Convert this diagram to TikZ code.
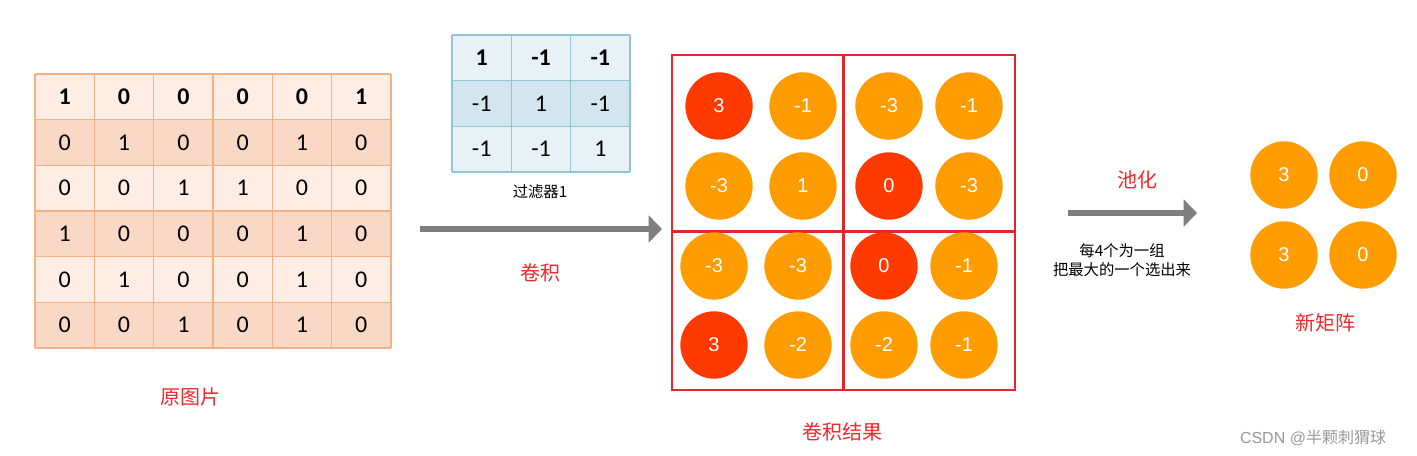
\documentclass[tikz,border=0pt]{standalone}
\usepackage{fontspec}
\setmainfont{Liberation Sans}
\newfontfamily\cjk{Noto Sans CJK SC}
\newfontfamily\calfont{Carlito}
\usetikzlibrary{arrows.meta}
\definecolor{gridA}{HTML}{FDEDE4}
\definecolor{gridB}{HTML}{F9D8C6}
\definecolor{gridline}{HTML}{F4B183}
\definecolor{filA}{HTML}{E8F1F6}
\definecolor{filB}{HTML}{D3E5EE}
\definecolor{filline}{HTML}{8EC6D8}
\definecolor{redc}{HTML}{FF3A00}
\definecolor{orac}{HTML}{FF9C00}
\definecolor{boxred}{HTML}{E4262B}
\definecolor{labred}{HTML}{F0282D}
\definecolor{arrowgray}{HTML}{7F7F7F}
\tikzset{
  gridnum/.style={font=\calfont\fontsize{18}{18}\selectfont, inner sep=0pt},
  filnum/.style={font=\calfont\fontsize{18}{18}\selectfont, inner sep=0pt},
  ball/.style={circle, minimum size=50.5pt, inner sep=0pt, text=white, font=\fontsize{15}{15}\selectfont},
  redlabel/.style={font=\cjk\fontsize{15}{15}\selectfont, text=labred, inner sep=0pt},
  smalllabel/.style={font=\cjk\fontsize{11.5}{14}\selectfont, inner sep=0pt, align=center},
  boxline/.style={draw=boxred, line width=1.3pt},
  bigarrow/.style={draw=arrowgray, line width=4.5pt, -{Triangle[length=10pt,width=20pt]}},
}
\begin{document}
\begin{tikzpicture}[x=0.75pt,y=-0.75pt]
\useasboundingbox (0,0) rectangle (1417,456);
\fill[white] (0,0) rectangle (1417,456);
% ---- original image grid ----
\foreach \row [count=\r] in {{1,0,0,0,0,1},{0,1,0,0,1,0},{0,0,1,1,0,0},{1,0,0,0,1,0},{0,1,0,0,1,0},{0,0,1,0,1,0}}{
  \foreach \v [count=\c] in \row {
    \pgfmathsetmacro{\cx}{35+(\c-1)*59.33}
    \pgfmathsetmacro{\cy}{74+(\r-1)*45.67}
    \ifodd\r \def\fc{gridA}\else\def\fc{gridB}\fi
    \fill[\fc] (\cx,\cy) rectangle ++(59.33,45.67);
    \node[gridnum] (g-\r-\c) at ({\cx+29.67},{\cy+22.83}) {\ifnum\r=1 \bfseries\fi\v};
  }
}
\foreach \i in {0,...,6}{
  \draw[gridline, line width=1.1pt] ({35+\i*59.33},74) -- ({35+\i*59.33},348);
  \draw[gridline, line width=1.1pt] (35,{74+\i*45.67}) -- (391,{74+\i*45.67});
}
\node[redlabel] (lab-orig) at (190,397) {原图片};
% ---- filter ----
\foreach \row [count=\r] in {{1,-1,-1},{-1,1,-1},{-1,-1,1}}{
  \foreach \v [count=\c] in \row {
    \pgfmathsetmacro{\cx}{452+(\c-1)*59.33}
    \pgfmathsetmacro{\cy}{35+(\r-1)*45.67}
    \ifnum\r=2 \def\fc{filB}\else\def\fc{filA}\fi
    \fill[\fc] (\cx,\cy) rectangle ++(59.33,45.67);
    \node[filnum] (f-\r-\c) at ({\cx+29.67},{\cy+22.83}) {\ifnum\r=1 \bfseries\fi\v};
  }
}
\foreach \i in {0,...,3}{
  \draw[filline, line width=1.1pt] ({452+\i*59.33},35) -- ({452+\i*59.33},172);
  \draw[filline, line width=1.1pt] (452,{35+\i*45.67}) -- (630,{35+\i*45.67});
}
\node[smalllabel] (lab-fil) at (540,192) {过滤器1};
% ---- arrow 1 ----
\coordinate (a1s) at (420,229);
\coordinate (a1e) at (662,229);
\draw[bigarrow] (a1s) -- (a1e);
\node[redlabel] (lab-conv) at (540,273) {卷积};
% ---- convolution result ----
\draw[boxline] (672,55) rectangle (1015,390);
\fill[boxred] (842.3,55) rectangle (844.7,390);
\fill[boxred] (672,230.3) rectangle (1015,232.7);
\foreach \x/\y/\v/\col [count=\k] in {
  719/106/3/redc, 803/106/-1/orac, 889/106/-3/orac, 969/106/-1/orac,
  719/186/-3/orac, 803/186/1/orac, 889/186/0/redc, 969/186/-3/orac,
  714/266/-3/orac, 798/266/-3/orac, 884/266/0/redc, 964/266/-1/orac,
  714/345/3/redc, 798/345/-2/orac, 884/345/-2/orac, 964/345/-1/orac}{
  \node[ball, fill=\col] (c\k) at (\x,\y) {\v};
}
\node[redlabel] (lab-res) at (842,432) {卷积结果};
% ---- arrow 2 ----
\coordinate (a2s) at (1068,213);
\coordinate (a2e) at (1197,213);
\draw[bigarrow] (a2s) -- (a2e);
\node[redlabel] (lab-pool) at (1137,180) {池化};
\node[smalllabel] (lab-pooltxt) at (1122,260) {每4个为一组\\把最大的一个选出来};
% ---- new matrix ----
\node[ball, fill=orac] (n1) at (1284,175) {3};
\node[ball, fill=orac] (n2) at (1363,175) {0};
\node[ball, fill=orac] (n3) at (1284,255) {3};
\node[ball, fill=orac] (n4) at (1363,255) {0};
\node[redlabel] (lab-new) at (1325,323) {新矩阵};
% ---- watermark ----
\node[font=\fontsize{12}{12}\selectfont, text=black!40, inner sep=0pt] (wm) at (1313,438) {CSDN @{\cjk 半颗刺猬球}};
\end{tikzpicture}
\end{document}
